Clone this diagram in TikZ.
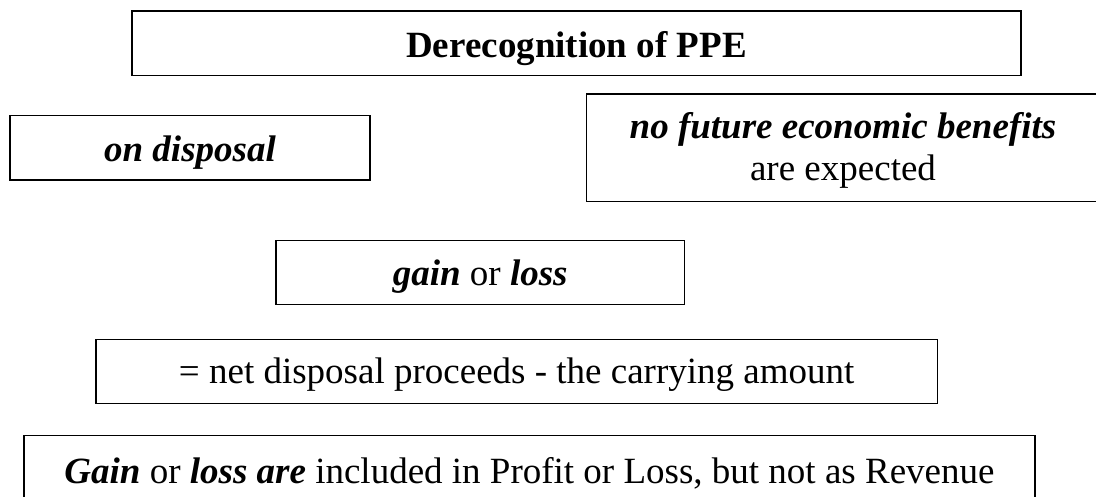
\documentclass[tikz,border=0pt]{standalone}
\usepackage{fontspec}
\setmainfont{Liberation Serif}
\begin{document}
\begin{tikzpicture}[x=1pt,y=-1pt,
  box/.style={draw=black, line width=1.5pt, inner sep=0pt, text depth=0pt,
    font=\fontsize{37}{42}\selectfont},
  line/.style={inner sep=0pt, anchor=base, font=\fontsize{37}{42}\selectfont},
]
% page frame
\clip (0,0) rectangle (1096,496);
\fill[white] (0,0) rectangle (1096,496);

% heading
\node[box, minimum width=889pt, minimum height=64.5pt, text height=28.1pt]
  (title) at (576.5,43.25) {\textbf{Derecognition of PPE}};

% the two cases
\node[box, minimum width=360pt, minimum height=64.7pt, text height=28.1pt]
  (disposal) at (190,147.65) {\textbf{\textit{on disposal}}};

\node[box, minimum width=512.6pt, minimum height=107.5pt]
  (benefits) at (843,147.75) {};
\node[line] (benefitsA) at (843,138.3) {\textbf{\textit{no future economic benefits}}};
\node[line] (benefitsB) at (843,180) {are expected};

% result
\node[box, minimum width=408.5pt, minimum height=64.4pt, text height=26pt]
  (gain) at (480.25,272.5) {\textbf{\textit{gain}} or \textbf{\textit{loss}}};

\node[box, minimum width=841.3pt, minimum height=64.2pt, text height=23.8pt]
  (formula) at (516.65,371.4) {= net disposal proceeds - the carrying amount};

\node[box, minimum width=1011pt, minimum height=64.5pt, text height=30.7pt]
  (profit) at (529.5,467.95)
  {\textbf{\textit{Gain}} or \textbf{\textit{loss are}} included in Profit or Loss, but not as Revenue};
\end{tikzpicture}
\end{document}
